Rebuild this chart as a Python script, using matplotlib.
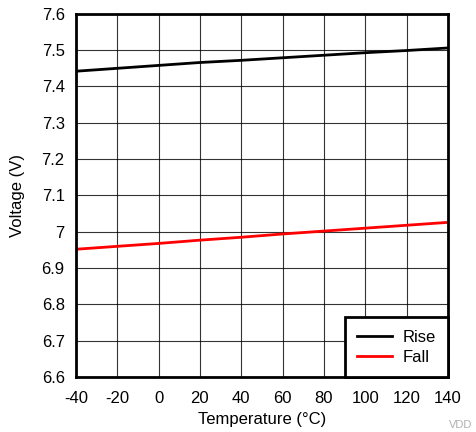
import matplotlib
matplotlib.use("Agg")
import matplotlib.pyplot as plt

plt.rcParams["font.family"] = ["Liberation Sans", "DejaVu Sans"]
plt.rcParams["axes.unicode_minus"] = False

temps = [-40, -20, 0, 20, 40, 60, 80, 100, 120, 140]
rise = [7.442, 7.450, 7.458, 7.466, 7.472, 7.479, 7.486, 7.493, 7.499, 7.506]
fall = [6.952, 6.960, 6.968, 6.977, 6.985, 6.994, 7.002, 7.010, 7.018, 7.026]

x_ticks = [-40, -20, 0, 20, 40, 60, 80, 100, 120, 140]
y_ticks = [6.6, 6.7, 6.8, 6.9, 7.0, 7.1, 7.2, 7.3, 7.4, 7.5, 7.6]
y_labels = ["6.6", "6.7", "6.8", "6.9", "7", "7.1", "7.2", "7.3", "7.4", "7.5", "7.6"]

fig = plt.figure(figsize=(4.77, 4.32), dpi=100)
ax = fig.add_axes([0.159, 0.127, 0.780, 0.841])

ax.plot(temps, rise, color="black", lw=2, label="Rise")
ax.plot(temps, fall, color="#ff0000", lw=2, label="Fall")

ax.set_xlim(-40, 140)
ax.set_ylim(6.6, 7.6)
ax.set_xticks(x_ticks)
ax.set_yticks(y_ticks)
ax.set_yticklabels(y_labels)
ax.tick_params(length=0, labelsize=12)
ax.tick_params(axis="x", pad=10)
ax.tick_params(axis="y", pad=8)
ax.grid(True, color="black", lw=0.8, alpha=0.8)
ax.set_axisbelow(True)
for s in ax.spines.values():
    s.set_linewidth(2)

ax.set_xlabel("Temperature (°C)", fontsize=12, labelpad=4)
ax.set_ylabel("Voltage (V)", fontsize=12, labelpad=12)

leg = ax.legend(loc="lower right", fontsize=12, frameon=True, fancybox=False,
                borderaxespad=0, handlelength=2.1, handletextpad=0.6,
                borderpad=0.75, labelspacing=0.3)
leg.get_frame().set_edgecolor("black")
leg.get_frame().set_linewidth(2)
leg.get_frame().set_alpha(1)

fig.text(0.99, 0.005, "VDD", fontsize=8, color="#b0b0b0", ha="right", va="bottom")

fig.savefig("out.png", dpi=100)
